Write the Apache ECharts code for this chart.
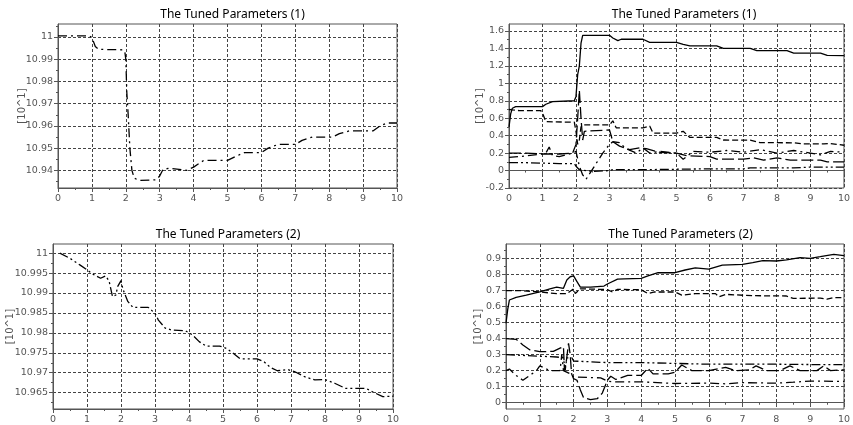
<!DOCTYPE html>
<html><head><meta charset="utf-8">
<script src="https://cdn.jsdelivr.net/npm/echarts@6/dist/echarts.min.js"></script>
<style>html,body{margin:0;padding:0;background:#fff}#c{width:853px;height:425px}</style>
</head><body><div id="c"></div>
<script>
// ---- data ----
const titles = ['The Tuned Parameters (1)', 'The Tuned Parameters (1)', 'The Tuned Parameters (2)', 'The Tuned Parameters (2)'];
const yName = '[10^1]';
const xTicks = [0,1,2,3,4,5,6,7,8,9,10];
const yTicks1 = [10.94,10.95,10.96,10.97,10.98,10.99,11];
const yTicks2 = [-0.2,0,0.2,0.4,0.6,0.8,1,1.2,1.4,1.6];
const yTicks3 = [10.965,10.97,10.975,10.98,10.985,10.99,10.995,11];
const yTicks4 = [0,0.1,0.2,0.3,0.4,0.5,0.6,0.7,0.8,0.9];
const yRange1 = [10.9321, 11.0058];
const yRange2 = [-0.2, 1.68];
const yRange3 = [10.9609, 11.0023];
const yRange4 = [-0.039, 0.989];

const p1 = [[0,11.0005],[0.9,11.0005],[1.0,10.9998],[1.1,10.9957],[1.2,10.9944],[1.9,10.9942],[1.97,10.9935],[2.0,10.99],[2.03,10.975],[2.07,10.965],[2.12,10.95],[2.18,10.94],[2.25,10.9365],[2.4,10.9355],[2.9,10.9358],[3.0,10.9375],[3.1,10.9405],[3.3,10.941],[3.8,10.940],[4.0,10.9415],[4.3,10.9445],[5.0,10.9445],[5.2,10.946],[5.5,10.948],[6.0,10.948],[6.2,10.950],[6.5,10.9517],[7.0,10.9517],[7.2,10.9535],[7.5,10.955],[8.1,10.955],[8.3,10.9565],[8.6,10.9578],[9.3,10.9578],[9.5,10.960],[9.7,10.9613],[10,10.9613]];

const p2solid = [[0,0.5],[0.05,0.65],[0.1,0.714],[0.2,0.733],[1.0,0.733],[1.1,0.76],[1.3,0.79],[1.95,0.8],[2.0,0.85],[2.05,1.1],[2.1,1.2],[2.15,1.46],[2.2,1.55],[3.0,1.55],[3.1,1.52],[3.25,1.49],[3.35,1.505],[4.0,1.505],[4.2,1.47],[5.0,1.47],[5.2,1.447],[5.4,1.43],[6.2,1.43],[6.4,1.40],[7.2,1.40],[7.4,1.375],[8.3,1.375],[8.5,1.345],[9.3,1.345],[9.5,1.32],[10,1.317]];
const p2dash = [[0,0.7],[0.1,0.695],[0.3,0.687],[0.95,0.687],[1.02,0.64],[1.1,0.56],[1.95,0.554],[2.0,0.45],[2.05,0.3],[2.1,0.35],[2.15,0.5],[2.2,0.523],[3.0,0.523],[3.1,0.57],[3.2,0.49],[4.0,0.49],[4.2,0.51],[4.3,0.43],[5.0,0.428],[5.2,0.45],[5.4,0.38],[6.2,0.38],[6.4,0.35],[7.2,0.348],[7.5,0.32],[8.5,0.318],[8.8,0.305],[9.4,0.305],[9.6,0.31],[10,0.29]];
const p2long = [[0,0.2],[0.5,0.2],[1.0,0.19],[1.5,0.19],[1.9,0.2],[2.0,0.3],[2.05,0.6],[2.1,0.92],[2.15,0.6],[2.2,0.35],[2.25,0.45],[2.3,0.466],[3.0,0.466],[3.05,0.4],[3.1,0.33],[3.3,0.28],[3.6,0.24],[3.9,0.26],[4.1,0.25],[4.5,0.21],[5.0,0.2],[5.3,0.17],[6.0,0.16],[6.2,0.13],[7.0,0.13],[7.3,0.145],[7.6,0.12],[8.0,0.145],[8.4,0.12],[9.0,0.12],[9.3,0.12],[9.5,0.1],[10,0.1]];
const p2dashdot = [[0,0.15],[0.3,0.16],[1.0,0.19],[1.1,0.2],[1.2,0.27],[1.3,0.17],[1.5,0.16],[1.9,0.2],[2.0,0.22],[2.1,0.05],[2.2,-0.05],[2.3,-0.1],[2.5,0.02],[2.8,0.2],[3.0,0.3],[3.1,0.33],[3.3,0.32],[3.5,0.25],[3.8,0.2],[4.0,0.26],[4.2,0.2],[4.5,0.22],[5.0,0.2],[5.2,0.13],[5.5,0.22],[6,0.21],[6.5,0.23],[7,0.21],[7.5,0.24],[8,0.2],[8.5,0.23],[9,0.2],[9.3,0.18],[9.6,0.22],[10,0.21]];
const p2dashdotdot = [[0,0.09],[0.5,0.09],[1.0,0.085],[1.5,0.08],[1.95,0.08],[2.0,0.05],[2.1,0.01],[2.3,0.0],[2.5,-0.01],[3.0,0.0],[3.1,0.01],[4,0.01],[5,0.015],[6,0.02],[7,0.02],[7.2,0.03],[8.5,0.03],[9,0.04],[10,0.04]];

const p3 = [[0.2,11.0],[0.5,10.9987],[0.8,10.997],[1.0,10.9958],[1.2,10.9946],[1.4,10.9937],[1.55,10.9943],[1.65,10.993],[1.75,10.9891],[1.85,10.9895],[1.9,10.9916],[2.0,10.9931],[2.05,10.9912],[2.1,10.99],[2.2,10.9879],[2.35,10.9864],[2.8,10.9864],[3.0,10.9849],[3.1,10.9832],[3.3,10.9812],[3.5,10.9807],[3.9,10.9805],[4.1,10.9795],[4.3,10.9778],[4.5,10.9767],[4.9,10.9767],[5.1,10.9761],[5.3,10.9749],[5.5,10.9735],[6.0,10.9735],[6.2,10.9728],[6.4,10.9713],[6.6,10.9705],[6.9,10.9708],[7.1,10.9703],[7.4,10.969],[7.7,10.9682],[8.0,10.9683],[8.3,10.9673],[8.6,10.9661],[9.2,10.9661],[9.4,10.9652],[9.7,10.964],[10,10.9641]];

const p4solid = [[0,0.495],[0.05,0.58],[0.1,0.64],[0.3,0.657],[0.6,0.67],[1.0,0.69],[1.3,0.71],[1.5,0.72],[1.7,0.713],[1.8,0.765],[1.9,0.785],[1.95,0.775],[2.0,0.79],[2.1,0.755],[2.2,0.72],[2.5,0.72],[2.9,0.727],[3.0,0.74],[3.3,0.77],[3.5,0.772],[4.0,0.775],[4.2,0.79],[4.5,0.81],[5.0,0.81],[5.3,0.827],[5.6,0.84],[6.0,0.833],[6.4,0.858],[7.0,0.862],[7.3,0.873],[7.6,0.885],[8.0,0.883],[8.3,0.89],[8.7,0.904],[9.0,0.9],[9.3,0.91],[9.7,0.925],[10,0.917]];
const p4dash = [[0,0.698],[0.5,0.698],[1.0,0.69],[1.5,0.68],[1.8,0.68],[1.9,0.695],[2.0,0.71],[2.05,0.68],[2.2,0.71],[3.0,0.705],[3.15,0.69],[3.3,0.706],[4.0,0.704],[4.2,0.68],[4.4,0.69],[5.0,0.69],[5.2,0.67],[5.6,0.68],[6.2,0.68],[6.3,0.66],[6.5,0.675],[7.3,0.667],[8.3,0.665],[8.5,0.65],[9.3,0.652],[9.5,0.645],[9.7,0.655],[10,0.655]];
const p4long = [[0,0.4],[0.3,0.395],[0.5,0.36],[0.7,0.33],[1.0,0.318],[1.4,0.32],[1.6,0.34],[1.7,0.35],[1.73,0.2],[1.78,0.25],[1.85,0.37],[1.9,0.3],[1.94,0.18],[2.0,0.15],[2.1,0.14],[2.2,0.08],[2.3,0.03],[2.5,0.02],[2.7,0.025],[2.85,0.06],[3.0,0.14],[3.1,0.165],[3.25,0.145],[3.6,0.17],[4.0,0.17],[4.2,0.215],[4.35,0.18],[4.8,0.18],[5.0,0.19],[5.2,0.235],[5.5,0.2],[6.0,0.2],[6.5,0.22],[6.8,0.2],[7.2,0.205],[7.4,0.23],[7.7,0.2],[8.1,0.2],[8.4,0.23],[8.7,0.2],[9.2,0.2],[9.4,0.23],[9.6,0.2],[10,0.205]];
const p4dashdotdot = [[0,0.3],[0.5,0.295],[1.0,0.29],[1.5,0.285],[1.7,0.28],[1.75,0.2],[1.8,0.28],[1.95,0.28],[2.0,0.26],[3.0,0.25],[4.0,0.25],[5.0,0.245],[6.0,0.24],[7.0,0.24],[8.0,0.24],[9.0,0.238],[10,0.237]];
const p4dashdot = [[0,0.2],[0.1,0.21],[0.3,0.17],[0.5,0.14],[0.9,0.2],[1.0,0.23],[1.3,0.2],[1.6,0.2],[1.65,0.3],[1.7,0.2],[1.9,0.18],[2.0,0.16],[2.8,0.155],[3.0,0.135],[3.2,0.13],[4.0,0.13],[5.0,0.12],[6.0,0.122],[6.5,0.118],[7.0,0.125],[8.0,0.122],[8.5,0.128],[9.0,0.135],[10,0.133]];

// ---- layout / styles ----
const grids = [
  {left:58, top:24, width:339, height:164},
  {left:509, top:24, width:340, height:164},
  {left:53, top:244, width:340, height:165},
  {left:506, top:244, width:339, height:165}
];
const DASH = {
  solid: 'solid',
  dash: [6,3],
  long: [12,4],
  dashdot: [9,4,2,4],
  dashdotdot: [9,3,2,3,2,3]
};
const panels = [
  {yTicks:yTicks1, range:yRange1, nameGap:31, series:[[p1,'dashdot']]},
  {yTicks:yTicks2, range:yRange2, nameGap:24, series:[[p2solid,'solid'],[p2dash,'dash'],[p2long,'long'],[p2dashdot,'dashdot'],[p2dashdotdot,'dashdotdot']]},
  {yTicks:yTicks3, range:yRange3, nameGap:38, series:[[p3,'dashdotdot']]},
  {yTicks:yTicks4, range:yRange4, nameGap:23, series:[[p4solid,'solid'],[p4dash,'dash'],[p4long,'long'],[p4dashdotdot,'dashdotdot'],[p4dashdot,'dashdot']]}
];

const FONT = 'DejaVu Sans';
const AX = '#555';
const option = {animation:false, title:[], grid:[], xAxis:[], yAxis:[], series:[]};
panels.forEach((p, i) => {
  const g = grids[i];
  option.grid.push(Object.assign({show:true, borderColor:AX, borderWidth:1, backgroundColor:'transparent', containLabel:false}, g));
  option.title.push({text:titles[i], left:g.left + g.width/2, top:g.top - 20, textAlign:'center',
    textStyle:{fontFamily:'Noto Sans', fontSize:12, fontWeight:'normal', color:'#000'}});
  option.xAxis.push({type:'value', gridIndex:i, min:0, max:10, interval:1,
    axisLine:{show:true, lineStyle:{color:AX}},
    axisTick:{show:true, inside:false, length:4, lineStyle:{color:AX}},
    minorTick:{show:true, splitNumber:2, length:2, lineStyle:{color:AX}},
    axisLabel:{fontFamily:FONT, fontSize:9.5, color:'#555', margin:6, formatter: v => String(v)},
    splitLine:{show:true, lineStyle:{color:'#444', type:[3,2], width:1}}
  });
  const minor = [];
  for (let k = 0; k < p.yTicks.length - 1; k++) minor.push((p.yTicks[k] + p.yTicks[k+1]) / 2);
  const step = p.yTicks[1] - p.yTicks[0];
  if (p.yTicks[0] - step/2 > p.range[0]) minor.unshift(p.yTicks[0] - step/2);
  if (p.yTicks[p.yTicks.length-1] + step/2 < p.range[1]) minor.push(p.yTicks[p.yTicks.length-1] + step/2);
  option.yAxis.push({type:'value', gridIndex:i, min:p.range[0], max:p.range[1], position:'left',
    name:yName, nameLocation:'middle', nameGap:p.nameGap, nameRotate:90, nameMoveOverlap:false,
    nameTextStyle:{fontFamily:FONT, fontSize:10, color:'#555'},
    axisLine:{show:true, lineStyle:{color:AX}},
    axisTick:{show:true, inside:false, length:4, customValues:p.yTicks, lineStyle:{color:AX}},
    axisLabel:{fontFamily:FONT, fontSize:9.5, color:'#555', margin:5, customValues:p.yTicks,
      formatter: v => String(parseFloat(v.toFixed(4)))},
    splitLine:{show:true, lineStyle:{color:'#444', type:[3,2], width:1}}
  });
  option.yAxis.push({type:'value', gridIndex:i, min:p.range[0], max:p.range[1], position:'left', offset:0,
    axisLine:{show:false}, axisLabel:{show:false}, splitLine:{show:false},
    axisTick:{show:true, inside:false, length:2, customValues:minor, lineStyle:{color:AX}}
  });
  p.series.forEach(([data, st]) => {
    option.series.push({type:'line', xAxisIndex:i, yAxisIndex:i*2, data:data, showSymbol:false, symbol:'none',
      lineStyle:{color:'#000', width:1.3, type:DASH[st]}, silent:true});
  });
});
const chart = echarts.init(document.getElementById('c'), null, {renderer:'canvas'});
chart.setOption(option);
</script></body></html>
